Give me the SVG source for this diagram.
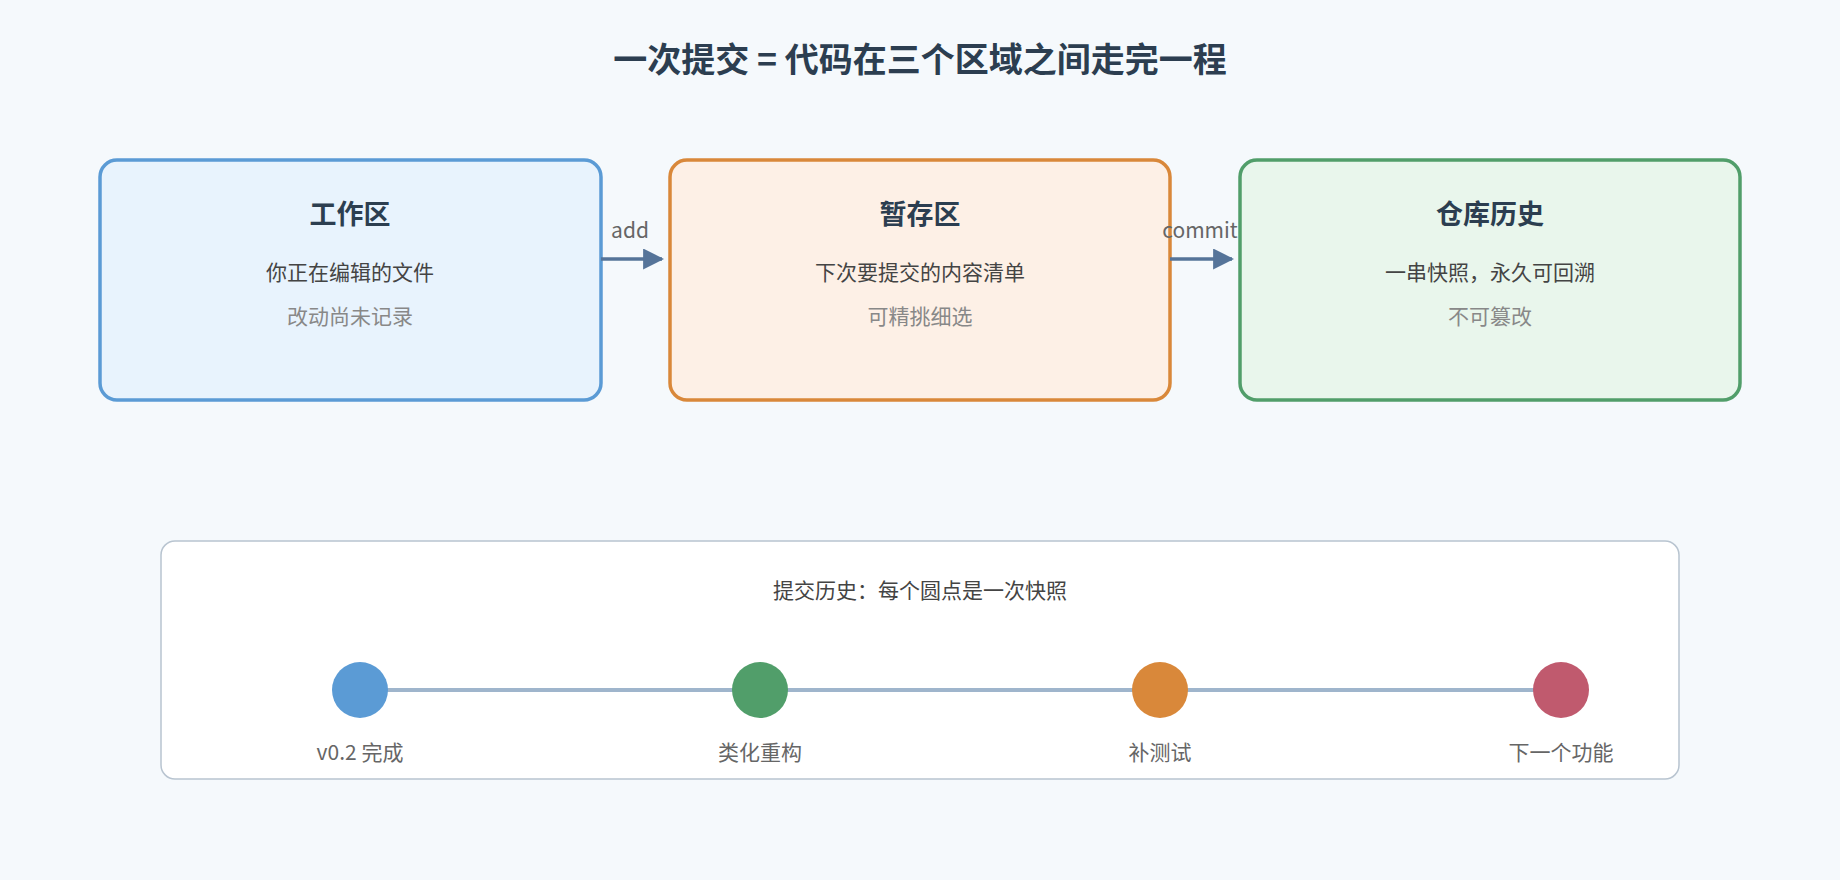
<svg xmlns="http://www.w3.org/2000/svg" width="1840" height="880" viewBox="0 0 1840 880">
<defs>
<marker id="ah" viewBox="0 0 10 10" refX="9" refY="5" markerWidth="6" markerHeight="6" markerUnits="strokeWidth" orient="auto"><path d="M0,0 L10,5 L0,10 z" fill="#557499"/></marker>
<style>
text{font-family:"Noto Sans CJK SC","Noto Sans",sans-serif;text-anchor:middle}
.t{font-size:34px;font-weight:bold;fill:#2c3e50}
.h{font-size:27px;font-weight:bold;fill:#2c3e50}
.s{font-size:21px;fill:#444}
.g{font-size:21px;fill:#888}
.l{font-size:21px;fill:#666}
.box{stroke-width:3.5}
.c{stroke:#557499;stroke-width:3.5;fill:none}
</style>
</defs>
<rect width="1840" height="880" fill="#f5f9fc"/>
<text class="t" x="920" y="72">一次提交 = 代码在三个区域之间走完一程</text>
<g id="work"><rect class="box" x="100" y="160" width="501" height="240" rx="17" fill="#e8f3fd" stroke="#5b9bd5"/>
<text class="h" x="350" y="224">工作区</text><text class="s" x="350" y="280">你正在编辑的文件</text><text class="g" x="350" y="324">改动尚未记录</text></g>
<g id="stage"><rect class="box" x="670" y="160" width="500" height="240" rx="17" fill="#fdf0e6" stroke="#d9883a"/>
<text class="h" x="920" y="224">暂存区</text><text class="s" x="920" y="280">下次要提交的内容清单</text><text class="g" x="920" y="324">可精挑细选</text></g>
<g id="repo"><rect class="box" x="1240" y="160" width="500" height="240" rx="17" fill="#e9f6ec" stroke="#519e6a"/>
<text class="h" x="1490" y="224">仓库历史</text><text class="s" x="1490" y="280">一串快照，永久可回溯</text><text class="g" x="1490" y="324">不可篡改</text></g>
<g id="connectors">
<line class="c" x1="601" y1="259" x2="662" y2="259" marker-end="url(#ah)"/>
<text class="l" x="630" y="238">add</text>
<line class="c" x1="1170" y1="259" x2="1232" y2="259" marker-end="url(#ah)"/>
<text class="l" x="1200" y="238">commit</text>
</g>
<g id="history"><rect x="161" y="541" width="1518" height="238" rx="14" fill="#fff" stroke="#b8c4d0" stroke-width="1.5"/>
<text class="s" x="920" y="598">提交历史：每个圆点是一次快照</text>
<line x1="360" y1="690" x2="1561" y2="690" stroke="#9fb5cc" stroke-width="4"/>
<circle cx="360" cy="690" r="28" fill="#5b9bd5"/><circle cx="760" cy="690" r="28" fill="#519e6a"/>
<circle cx="1160" cy="690" r="28" fill="#d9883a"/><circle cx="1561" cy="690" r="28" fill="#c05a6e"/>
<text class="l" x="360" y="760">v0.2 完成</text><text class="l" x="760" y="760">类化重构</text>
<text class="l" x="1160" y="760">补测试</text><text class="l" x="1561" y="760">下一个功能</text></g>
</svg>
